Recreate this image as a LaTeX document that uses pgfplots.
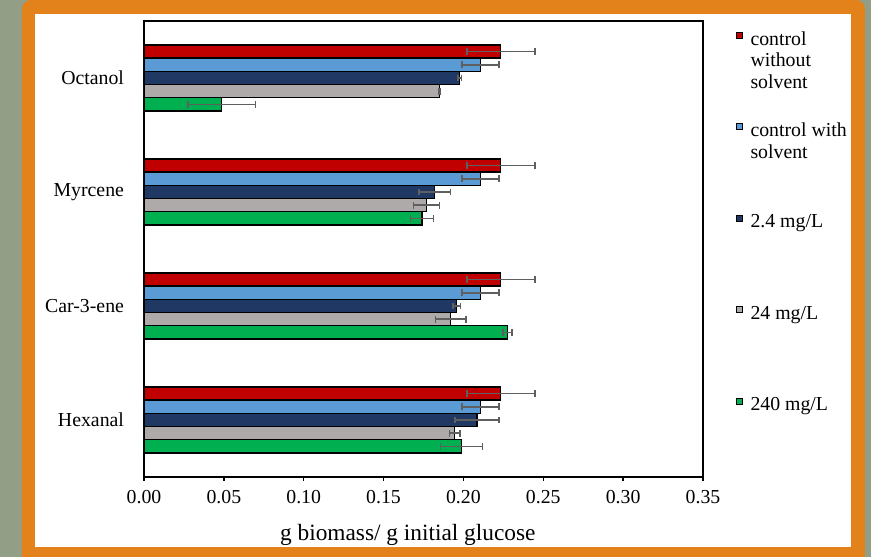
\documentclass[border=0pt]{standalone}
\usepackage{fontspec}
\setmainfont{Liberation Serif}
\usepackage{pgfplots}
\usepackage{pgfplotstable}
\pgfplotsset{compat=1.18}
\definecolor{bggreen}{HTML}{929F86}
\definecolor{frameorange}{HTML}{E3821A}
\definecolor{cred}{HTML}{C00000}
\definecolor{clblue}{HTML}{5B9BD5}
\definecolor{cdblue}{HTML}{203864}
\definecolor{cgrey}{HTML}{AEAAAA}
\definecolor{cgreen}{HTML}{00B050}
\definecolor{errgrey}{HTML}{5F5F5F}

% y: 0 Hexanal, 1 Car-3-ene, 2 Myrcene, 3 Octanol
\pgfplotstableread{
y x ex
0 0.2234 0.0213
1 0.2234 0.0213
2 0.2234 0.0213
3 0.2234 0.0213
}\tred
\pgfplotstableread{
y x ex
0 0.2107 0.0117
1 0.2107 0.0117
2 0.2107 0.0117
3 0.2107 0.0117
}\tlblue
\pgfplotstableread{
y x ex
0 0.2086 0.0138
1 0.1957 0.0024
2 0.1821 0.0099
3 0.1977 0.0010
}\tdblue
\pgfplotstableread{
y x ex
0 0.1946 0.0032
1 0.1921 0.0096
2 0.1769 0.0081
3 0.1852 0.0003
}\tgrey
\pgfplotstableread{
y x ex
0 0.1988 0.0131
1 0.2276 0.0028
2 0.1740 0.0072
3 0.0486 0.0212
}\tgreen

\newcommand{\lbox}[1]{\parbox[t]{3cm}{#1}}

\begin{document}
\begin{tikzpicture}
\begin{scope}[x=0.75pt,y=0.75pt]
\useasboundingbox (0,0) rectangle (871,557);
\fill[bggreen] (0,0) rectangle (871,557);
\fill[frameorange] (22,0) -- (22,548) arc[start angle=180,end angle=90,radius=9] -- (856,557) arc[start angle=90,end angle=0,radius=9] -- (865,0) -- cycle;
\fill[white] (35.5,10) rectangle (851,543);
\end{scope}
\begin{axis}[
  at={(108pt,60pt)}, anchor=south west,
  scale only axis, width=419.25pt, height=342pt,
  xbar, bar width=0.116,
  xmin=0, xmax=0.35, ymin=-0.5, ymax=3.5,
  xtick={0,0.05,0.1,0.15,0.2,0.25,0.3,0.35},
  xticklabel style={/pgf/number format/.cd, fixed, fixed zerofill, precision=2, /tikz/.cd, yshift=-3.75pt},
  /pgf/number format/assume math mode=true,
  ytick={0,1,2,3},
  yticklabels={Hexanal,Car-3-ene,Myrcene,Octanol},
  ytick style={draw=none},
  tick align=outside,
  xtick pos=lower,
  major tick length=3pt,
  tick style={black, line width=1.1pt},
  axis line style={black, line width=1.1pt},
  tick label style={font=\fontsize{14.85}{16}\selectfont},
  yticklabel style={xshift=-8.5pt},
  xlabel={g biomass/ g initial glucose},
  xlabel style={font=\fontsize{17.5}{20}\selectfont, at={(axis description cs:0.472,0)}, anchor=center, yshift=-43.5pt},
  legend style={at={(axis description cs:1.0524,0.983)}, anchor=north west, draw=none, fill=none,
    font=\fontsize{14.85}{16.3}\selectfont,
    nodes={inner sep=0pt, inner xsep=2pt, text height=10pt, text depth=58.6pt}, row sep=0pt},
  legend cell align=left,
  legend image code/.code={\path[draw=none, fill=none] (0pt,4.5pt) rectangle (8.5pt,9pt);
    \draw[#1, line width=0.5pt, overlay] (0pt,29.5pt) rectangle (4.5pt,34pt);},
  error bars/error bar style={errgrey, line width=1.2pt},
  error bars/error mark=|,
  error bars/error mark options={errgrey, line width=1.2pt, mark size=2.5pt},
]
\addplot[fill=cred, draw=black, line width=1pt, bar shift=0.232,
  error bars/.cd, x dir=both, x explicit] table[x=x, y=y, x error=ex]{\tred};
\addlegendentry{\lbox{control\\without\\solvent}}
\addplot[fill=clblue, draw=black, line width=1pt, bar shift=0.116,
  error bars/.cd, x dir=both, x explicit] table[x=x, y=y, x error=ex]{\tlblue};
\addlegendentry{\lbox{control with\\solvent}}
\addplot[fill=cdblue, draw=black, line width=1pt, bar shift=0,
  error bars/.cd, x dir=both, x explicit] table[x=x, y=y, x error=ex]{\tdblue};
\addlegendentry{\lbox{2.4 mg/L}}
\addplot[fill=cgrey, draw=black, line width=1pt, bar shift=-0.116,
  error bars/.cd, x dir=both, x explicit] table[x=x, y=y, x error=ex]{\tgrey};
\addlegendentry{\lbox{24 mg/L}}
\addplot[fill=cgreen, draw=black, line width=1pt, bar shift=-0.232,
  error bars/.cd, x dir=both, x explicit] table[x=x, y=y, x error=ex]{\tgreen};
\addlegendentry{\lbox{240 mg/L}}
\end{axis}
\end{tikzpicture}
\end{document}
